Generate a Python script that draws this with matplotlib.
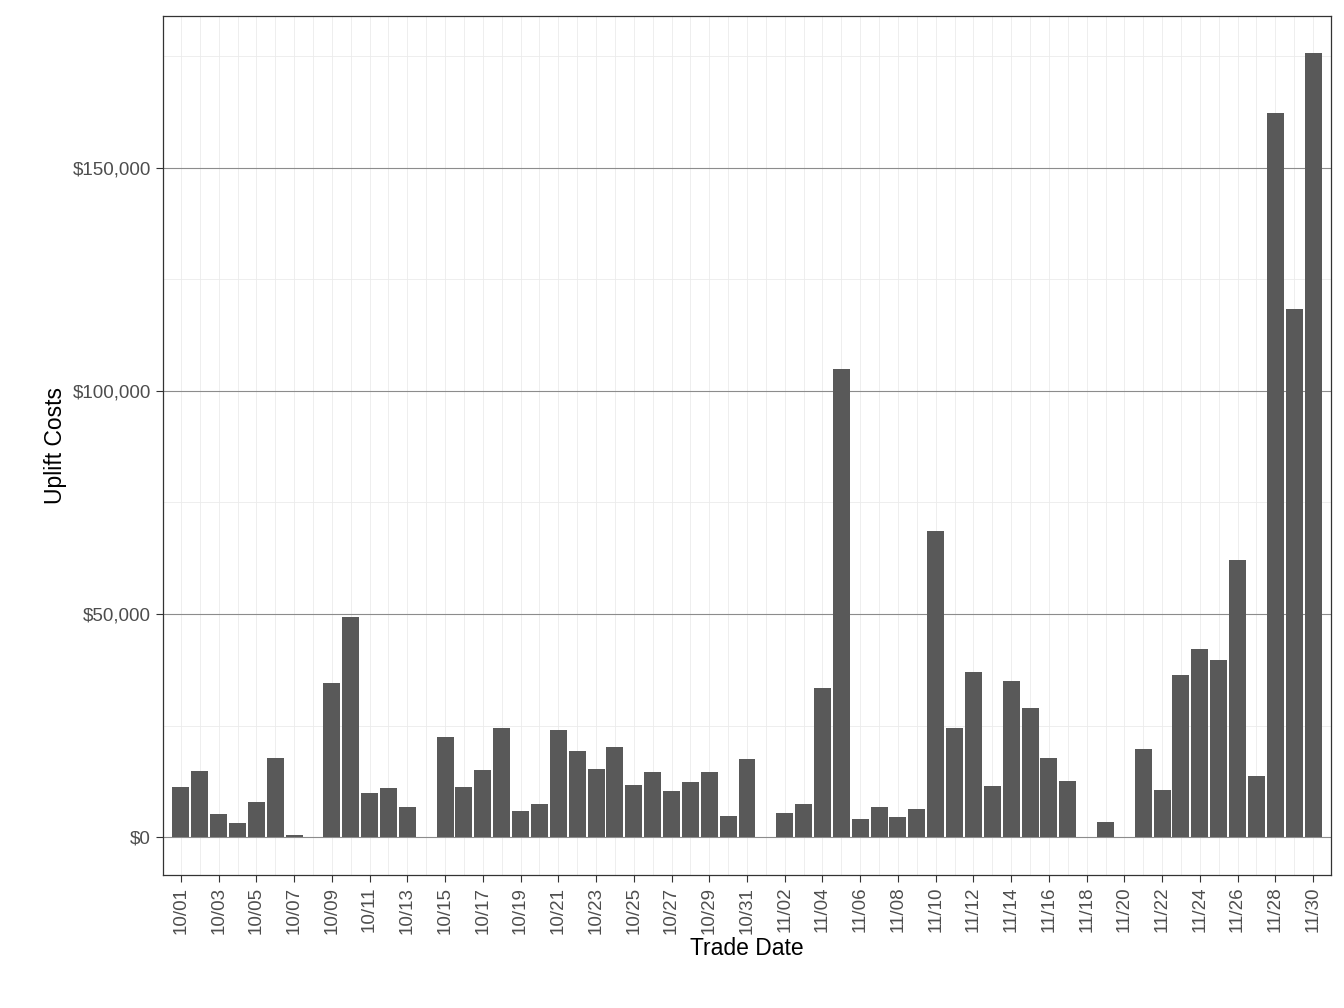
import numpy as np
import matplotlib
matplotlib.use("Agg")
import matplotlib.pyplot as plt
from matplotlib.ticker import FuncFormatter, MultipleLocator

plt.rcParams['font.family'] = ['Liberation Sans', 'DejaVu Sans']

# trade dates 10/01 .. 11/30
datas = [f"10/{d:02d}" for d in range(1, 32)] + [f"11/{d:02d}" for d in range(1, 31)]

# uplift costs in thousands of dollars
uplift_k = [11.2, 14.8, 5.2, 3.1, 7.8, 17.7, 0.4, 0.0, 34.5, 49.3,
            9.9, 11.0, 6.7, 0.0, 22.4, 11.2, 15.0, 24.4, 5.8, 7.4,
            24.0, 19.3, 15.2, 20.2, 11.7, 14.6, 10.3, 12.3, 14.6, 4.7,
            17.5,
            0.0, 5.4, 7.4, 33.4, 104.9, 4.0, 6.7, 4.5, 6.3, 68.6,
            24.4, 37.0, 11.4, 35.0, 28.9, 17.7, 12.6, 0.0, 3.4, 0.0,
            19.7, 10.5, 36.3, 42.2, 39.7, 62.1, 13.7, 162.3, 118.4, 175.6]
valores = np.array(uplift_k) * 1000

fig = plt.figure(figsize=(13.44, 10.08), dpi=100)
ax = fig.add_axes([163/1344, 1 - 875/1008, (1331-163)/1344, (875-16)/1008])

x = np.arange(len(datas))
ax.bar(x, valores, width=0.9, color="#595959", zorder=3)

ax.set_xlim(-0.95, len(datas) - 0.05)
ax.set_ylim(-8500, 184000)

ax.yaxis.set_major_locator(MultipleLocator(50000))
ax.yaxis.set_minor_locator(MultipleLocator(25000))
ax.yaxis.set_major_formatter(FuncFormatter(lambda v, p: f"${v:,.0f}"))
ax.set_xticks(x[::2])
ax.set_xticklabels(datas[::2], rotation=90)
ax.set_xticks(x, minor=True)

ax.grid(True, which="major", axis="y", color="#8c8c8c", linewidth=0.8, zorder=0)
ax.grid(True, which="minor", axis="y", color="#ebebeb", linewidth=0.6, zorder=0)
ax.grid(True, which="both", axis="x", color="#ebebeb", linewidth=0.6, zorder=0)
ax.tick_params(axis="y", which="minor", length=0)
ax.tick_params(axis="x", which="minor", length=0)
ax.tick_params(which="major", length=5, color="#333333", labelsize=13.5, labelcolor="#4d4d4d")

for s in ax.spines.values():
    s.set_color("#333333")
    s.set_linewidth(0.9)

ax.set_xlabel("Trade Date", fontsize=16.5, labelpad=2)
ax.set_ylabel("Uplift Costs", fontsize=16.5)

plt.savefig("out.png", dpi=100)
